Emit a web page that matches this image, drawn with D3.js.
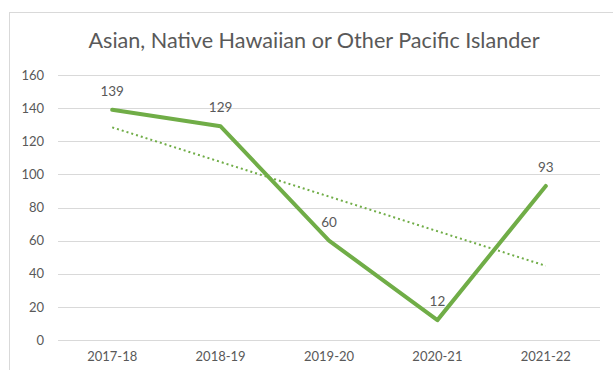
<!DOCTYPE html>
<html>
<head>
<meta charset="utf-8">
<script src="https://cdn.jsdelivr.net/npm/d3@7"></script>
<style>
html,body{margin:0;padding:0;background:#fff;}
svg{display:block;}
</style>
</head>
<body>
<svg id="chart" width="613" height="370"></svg>
<script>
const title = "Asian, Native Hawaiian or Other Pacific Islander";
const categories = ["2017-18", "2018-19", "2019-20", "2020-21", "2021-22"];
const values = [139, 129, 60, 12, 93];
const yTicks = [0, 20, 40, 60, 80, 100, 120, 140, 160];

(function () {
const svg = d3.select("#chart");
const mLeft = 58, mRight = 600, mTop = 75, mBottom = 340;
const font = "Lato, 'Open Sans', sans-serif";
const green = "#70AD47";
const grayText = "#595959";

// outer chart border
svg.append("rect").attr("x", 9.5).attr("y", 12.5).attr("width", 620).attr("height", 380)
  .attr("fill", "#fff").attr("stroke", "#d9d9d9").attr("stroke-width", 1);

const x = d3.scaleBand().domain(categories).range([mLeft, mRight]);
const y = d3.scaleLinear().domain([0, 160]).range([mBottom, mTop]);

// gridlines
svg.append("g").selectAll("line").data(yTicks).join("line")
  .attr("x1", mLeft).attr("x2", mRight)
  .attr("y1", d => Math.round(y(d)) + 0.5).attr("y2", d => Math.round(y(d)) + 0.5)
  .attr("stroke", "#d9d9d9").attr("stroke-width", 1);

// y axis labels
const yAxis = d3.axisLeft(y).tickValues(yTicks).tickSize(0).tickPadding(0);
const gy = svg.append("g").attr("transform", `translate(44,0)`).call(yAxis);
gy.select(".domain").remove();
gy.selectAll("text").attr("font-family", font).attr("font-size", 13).attr("fill", grayText);

// x axis labels
const xAxis = d3.axisBottom(x).tickSize(0).tickPadding(0);
const gx = svg.append("g").attr("transform", `translate(0,${mBottom + 12})`).call(xAxis);
gx.select(".domain").remove();
gx.selectAll("text").attr("font-family", font).attr("font-size", 13).attr("fill", grayText);

// title
svg.append("text").attr("x", 314).attr("y", 48).attr("text-anchor", "middle")
  .attr("font-family", font).attr("font-size", 21.6).attr("fill", grayText).text(title);

const cx = d => x(d) + x.bandwidth() / 2;

// linear trendline (least squares on the data)
const n = values.length;
const xs = values.map((_, i) => i + 1);
const mx = d3.mean(xs), my = d3.mean(values);
const slope = d3.sum(xs.map((xi, i) => (xi - mx) * (values[i] - my))) / d3.sum(xs.map(xi => (xi - mx) ** 2));
const icpt = my - slope * mx;
const trend = [categories[0], categories[n - 1]].map((c, k) => [cx(c), y(icpt + slope * (k === 0 ? 1 : n))]);
svg.append("path").attr("d", d3.line()(trend)).attr("fill", "none")
  .attr("stroke", green).attr("stroke-width", 2).attr("stroke-dasharray", "2,3");

// main line
const line = d3.line().x((d, i) => cx(categories[i])).y(d => y(d));
svg.append("path").datum(values).attr("d", line).attr("fill", "none")
  .attr("stroke", green).attr("stroke-width", 4).attr("stroke-linejoin", "round").attr("stroke-linecap", "round");

// data labels
svg.append("g").selectAll("text").data(values).join("text")
  .attr("x", (d, i) => cx(categories[i]))
  .attr("y", d => y(d) - 14)
  .attr("text-anchor", "middle")
  .attr("font-family", font).attr("font-size", 13.5).attr("fill", grayText)
  .text(d => d);
})();
</script>
</body>
</html>
